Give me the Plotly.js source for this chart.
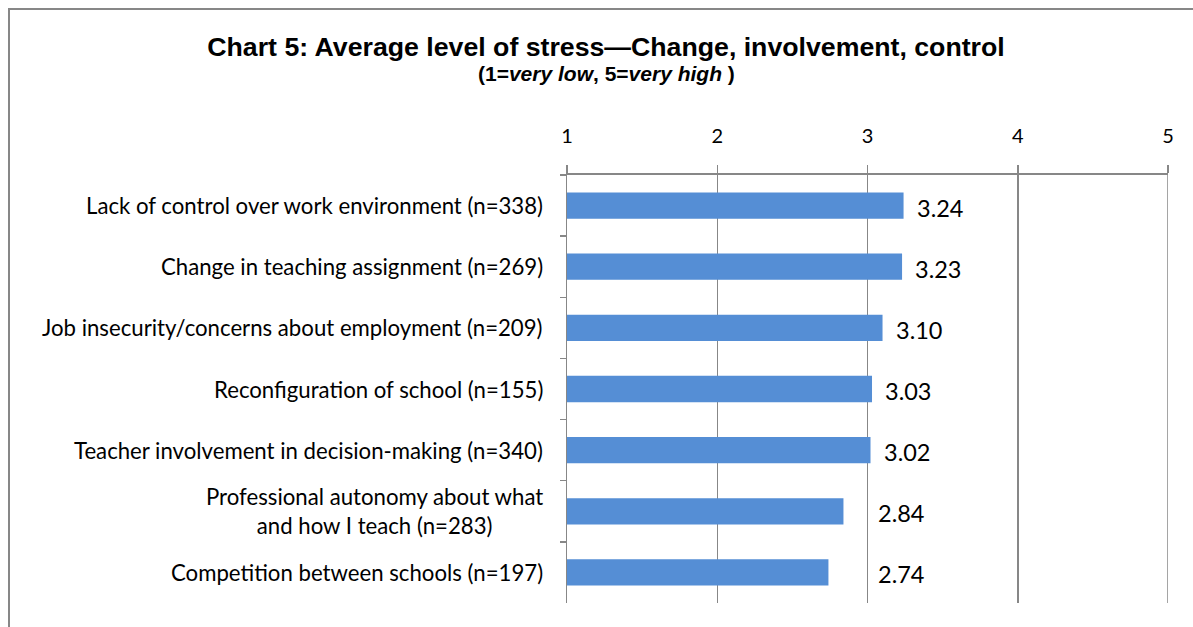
<!DOCTYPE html>
<html>
<head>
<meta charset="utf-8">
<script src="https://cdn.plot.ly/plotly-3.0.1.min.js"></script>
<style>html,body{margin:0;padding:0;background:#fff}#chart{width:1193px;height:627px}</style>
</head>
<body>
<div id="chart"></div>
<script>
const categories = [
  "Lack of control over work environment (n=338)",
  "Change in teaching assignment (n=269)",
  "Job insecurity/concerns about employment (n=209)",
  "Reconfiguration of school (n=155)",
  "Teacher involvement in decision-making (n=340)",
  "Professional autonomy about what<br>and how I teach (n=283)",
  "Competition between schools (n=197)"
];
const values = [3.24, 3.23, 3.10, 3.03, 3.02, 2.84, 2.74];
const valueLabels = ["3.24", "3.23", "3.10", "3.03", "3.02", "2.84", "2.74"];
const tickValues = [1, 2, 3, 4, 5];
const tickLabels = ["1", "2", "3", "4", "5"];
const axisMin = 1, axisMax = 5;

const W = 1193, H = 627;
const L = 567, R = 1168, T = 175, B = 603;
const pw = R - L, ph = B - T;
const px = x => (x - L) / pw;
const py = y => (B - y) / ph;

const gray = '#878787';
const labelFont = {family: 'Lato, "Open Sans", sans-serif', size: 22.2, color: '#000'};

const trace = {
  type: 'bar',
  orientation: 'h',
  y: categories,
  x: values.map(v => v - axisMin),
  base: axisMin,
  marker: {color: '#558ED5'},
  width: 0.43,
  hoverinfo: 'x+y'
};

const annotations = [];
categories.forEach((c, i) => {
  annotations.push({
    xref: 'paper', yref: 'y', x: 0, y: c,
    xanchor: 'right', yanchor: 'middle', xshift: -22,
    text: c, showarrow: false, align: 'center', font: labelFont
  });
  // labels of bars ending just before the "3" gridline sit right of that gridline
  const beforeGrid = values[i] < 3;
  annotations.push({
    xref: 'x', yref: 'y', x: beforeGrid ? 3 : values[i], y: c,
    xanchor: 'left', yanchor: 'middle', xshift: beforeGrid ? 8 : 11, yshift: -2,
    text: valueLabels[i], showarrow: false, font: Object.assign({}, labelFont, {size: 23.5})
  });
});
annotations.push({
  xref: 'paper', yref: 'paper', x: px(606), y: py(74),
  xanchor: 'center', yanchor: 'middle', showarrow: false,
  text: '(1=<i>very low</i>, 5=<i>very high</i> )',
  font: {family: '"Liberation Sans", Arial, sans-serif', size: 21, color: '#000', weight: 'bold'}
});

const layout = {
  width: W, height: H,
  margin: {l: L, r: W - R, t: T, b: H - B, pad: 0},
  paper_bgcolor: '#fff', plot_bgcolor: '#fff',
  showlegend: false,
  title: {
    text: 'Chart 5: Average level of stress\u2014Change, involvement, control',
    x: 606 / W, xanchor: 'center', xref: 'container',
    y: 1 - 47 / H, yanchor: 'middle', yref: 'container',
    font: {family: '"Liberation Sans", Arial, sans-serif', size: 26.7, color: '#000', weight: 'bold'}
  },
  xaxis: {
    side: 'top', range: [axisMin, axisMax], tickvals: tickValues, ticktext: tickLabels,
    showgrid: true, gridcolor: gray, gridwidth: 1.5,
    showline: true, linecolor: gray, linewidth: 2,
    ticks: 'outside', ticklen: 8, tickcolor: gray, tickwidth: 1.5,
    ticklabelstandoff: 14,
    tickfont: Object.assign({}, labelFont, {size: 20}), zeroline: false, fixedrange: true
  },
  yaxis: {
    type: 'category', autorange: 'reversed',
    showticklabels: false,
    showline: true, linecolor: gray, linewidth: 1.5,
    ticks: 'outside', ticklen: 6, tickcolor: gray, tickwidth: 1.5,
    tickson: 'boundaries', showgrid: false, zeroline: false, fixedrange: true
  },
  annotations: annotations,
  shapes: [
    {
      type: 'rect', xref: 'paper', yref: 'paper',
      x0: px(9), x1: px(1260), y0: py(9), y1: py(700),
      line: {color: gray, width: 2}, fillcolor: 'rgba(0,0,0,0)', layer: 'below'
    },
    {
      type: 'line', xref: 'x', yref: 'paper',
      x0: axisMax, x1: axisMax, y0: 0, y1: 1 + 8 / ph,
      line: {color: gray, width: 1.5}, layer: 'below'
    }
  ]
};

Plotly.newPlot('chart', [trace], layout, {displayModeBar: false, staticPlot: true});
</script>
</body>
</html>
